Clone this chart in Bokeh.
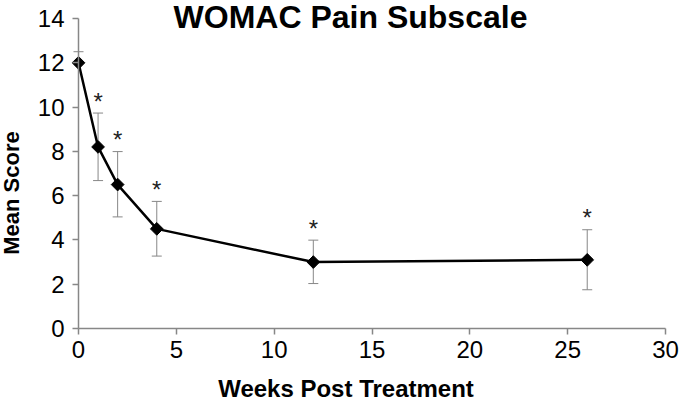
import numpy as np
from bokeh.plotting import figure
from bokeh.models import (ColumnDataSource, FixedTicker, Label, Whisker, TeeHead)
from bokeh.core.properties import value
from bokeh.embed import file_html
from bokeh.resources import INLINE

# ---- data ----
weeks = [0, 1, 2, 4, 12, 26]
mean_score = [12.0, 8.2, 6.5, 4.5, 3.0, 3.1]
err_upper = [12.5, 9.73, 7.99, 5.74, 3.99, 4.46]
err_lower = [12.0, 6.68, 5.04, 3.27, 2.03, 1.75]
significance = ["", "*", "*", "*", "*", "*"]

x_ticks = [0, 5, 10, 15, 20, 25, 30]
y_ticks = [0, 2, 4, 6, 8, 10, 12, 14]
x_axis_span = (0, 30)
y_axis_span = (0, 14)

title_text = "WOMAC Pain Subscale"
x_label_text = "Weeks Post Treatment"
y_label_text = "Mean Score"

FONT = "Liberation Sans"
AXIS_GREY = "#878787"

# pixel geometry of the plot area inside the 680x402 canvas
W, H = 680, 402
PX_LEFT, PX_RIGHT, PX_TOP, PX_BOTTOM = 78, 665, 18, 328
sx = (PX_RIGHT - PX_LEFT) / (x_axis_span[1] - x_axis_span[0])
sy = (PX_BOTTOM - PX_TOP) / (y_axis_span[1] - y_axis_span[0])
x_lo = x_axis_span[0] - PX_LEFT / sx
x_hi = x_axis_span[1] + (W - PX_RIGHT) / sx
y_lo = y_axis_span[0] - (H - PX_BOTTOM) / sy
y_hi = y_axis_span[1] + PX_TOP / sy


def px_to_x(px):
    return x_axis_span[0] + (px - PX_LEFT) / sx


def px_to_y(py):
    return y_axis_span[0] + (PX_BOTTOM - py) / sy


src = ColumnDataSource(dict(x=weeks, y=mean_score, upper=err_upper,
                            lower=err_lower, sig=significance))

p = figure(width=W, height=H, output_backend="svg", toolbar_location=None,
           x_range=(x_lo, x_hi), y_range=(y_lo, y_hi),
           min_border_left=0, min_border_right=0,
           min_border_top=0, min_border_bottom=0)
p.outline_line_color = None
p.xgrid.grid_line_color = None
p.ygrid.grid_line_color = None
p.background_fill_color = "white"
p.border_fill_color = "white"

for ax in (p.xaxis[0], p.yaxis[0]):
    ax.fixed_location = 0
    ax.axis_line_color = AXIS_GREY
    ax.axis_line_width = 1.5
    ax.major_tick_line_color = AXIS_GREY
    ax.major_tick_line_width = 1.5
    ax.major_tick_out = 6
    ax.major_tick_in = 0
    ax.minor_tick_line_color = None
    ax.major_label_text_font = FONT
    ax.major_label_text_font_size = "24px"
    ax.major_label_text_color = "black"

p.xaxis[0].ticker = FixedTicker(ticks=x_ticks)
p.yaxis[0].ticker = FixedTicker(ticks=y_ticks)
p.xaxis[0].bounds = x_axis_span
p.yaxis[0].bounds = y_axis_span
p.xaxis[0].major_label_standoff = 6
p.yaxis[0].major_label_standoff = 8

# error bars (behind the line and markers)
head_u = TeeHead(size=10, line_color=AXIS_GREY, line_width=1)
head_l = TeeHead(size=10, line_color=AXIS_GREY, line_width=1)
wh = Whisker(base="x", upper="upper", lower="lower", source=src,
             line_color=AXIS_GREY, line_width=1,
             upper_head=head_u, lower_head=head_l, level="underlay")
p.add_layout(wh)

# series line and diamond markers
p.line("x", "y", source=src, line_color="black", line_width=2.5)
p.scatter("x", "y", source=src, marker="square", angle=np.pi / 4, size=9,
          fill_color="black", line_color="black")

# significance asterisks above the error bars
p.text("x", "upper", text="sig", source=src, text_align="center",
       text_baseline="alphabetic", y_offset=-12,
       text_font=value(FONT), text_font_size="24px", text_color="#222222")

# chart title and axis titles
p.add_layout(Label(x=px_to_x(350), y=px_to_y(16), text=title_text,
                   text_align="center", text_baseline="alphabetic",
                   text_font=FONT, text_font_size="32px",
                   text_font_style="bold", text_color="black"))
p.add_layout(Label(x=px_to_x(345.5), y=px_to_y(387.5), text=x_label_text,
                   text_align="center", text_baseline="alphabetic",
                   text_font=FONT, text_font_size="24px",
                   text_font_style="bold", text_color="black"))
p.add_layout(Label(x=px_to_x(11), y=px_to_y(192.5), text=y_label_text,
                   angle=np.pi / 2, text_align="center",
                   text_baseline="alphabetic", text_font=FONT,
                   text_font_size="22px", text_font_style="bold",
                   text_color="black"))

open("out.html", "w").write(file_html(p, INLINE))
